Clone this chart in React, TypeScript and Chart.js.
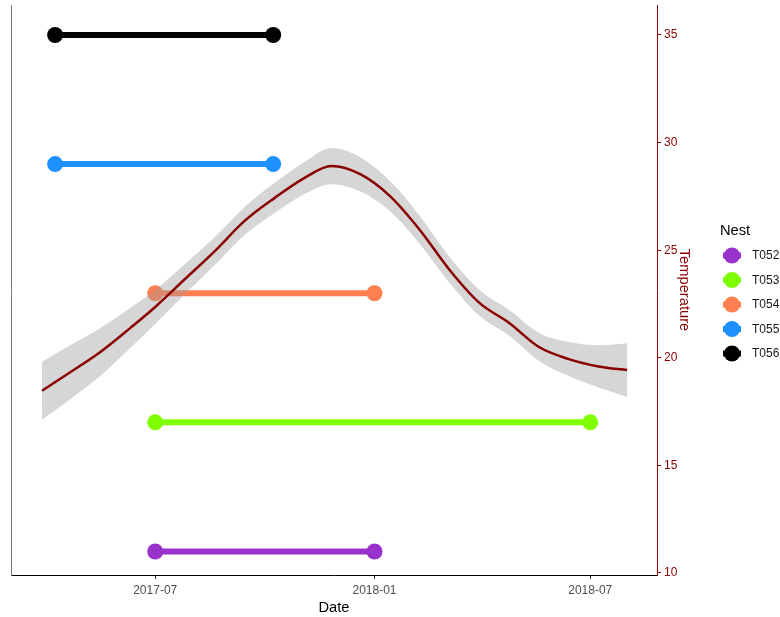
import React, { useEffect, useRef } from "react";
import { Chart, registerables } from "chart.js";

Chart.register(...registerables);

// ---- Data ----
const nests = ["T052", "T053", "T054", "T055", "T056"];
const nestColors = ["#9932CC", "#7FFF00", "#FF7F50", "#1E90FF", "#000000"];
const nestLevel = [11, 17, 23, 29, 35];
const nestStart = ["2017-07-01", "2017-07-01", "2017-07-01", "2017-04-08", "2017-04-08"];
const nestEnd = ["2018-01-01", "2018-07-01", "2018-01-01", "2017-10-08", "2017-10-08"];

const smoothDates = [
  "2017-03-28", "2017-04-21", "2017-05-16", "2017-06-10", "2017-07-01", "2017-07-26",
  "2017-08-20", "2017-09-14", "2017-10-09", "2017-11-03", "2017-11-26", "2017-12-20",
  "2018-01-14", "2018-02-08", "2018-03-05", "2018-03-30", "2018-04-24", "2018-05-19",
  "2018-06-13", "2018-07-08", "2018-08-01",
];
const smoothTemp = [
  18.47, 19.34, 20.27, 21.38, 22.36, 23.66, 24.96, 26.36, 27.42, 28.35, 28.91, 28.53,
  27.51, 25.94, 24.08, 22.55, 21.62, 20.5, 19.94, 19.6, 19.43,
];
const smoothUpper = [
  19.82, 20.59, 21.39, 22.31, 23.15, 24.36, 25.61, 27.01, 28.12, 29.09, 29.75, 29.32,
  28.21, 26.59, 24.68, 23.15, 22.22, 21.15, 20.73, 20.58, 20.68,
];
const smoothLower = [
  17.12, 18.09, 19.15, 20.45, 21.57, 22.96, 24.31, 25.71, 26.72, 27.61, 28.07, 27.74,
  26.81, 25.29, 23.48, 21.95, 21.02, 19.85, 19.15, 18.62, 18.18,
];

const xTickDates = ["2017-07-01", "2018-01-01", "2018-07-01"];
const xTickLabels = ["2017-07", "2018-01", "2018-07"];
const yTicks = [10, 15, 20, 25, 30, 35];
const xRange = ["2017-03-02", "2018-08-26"];
const yRange = [9.907, 36.394];

const day = (s: string) => {
  const [y, m, d] = s.split("-").map(Number);
  return Date.UTC(y, m - 1, d) / 86400000;
};

const FONT = "'Liberation Sans', Arial, sans-serif";
const DARKRED = "#8B0000";

const legendPlugin = {
  id: "nestLegend",
  afterDraw(chart: any) {
    const ctx = chart.ctx;
    ctx.save();
    ctx.fillStyle = "#000";
    ctx.font = `14.7px ${FONT}`;
    ctx.textAlign = "left";
    ctx.textBaseline = "middle";
    ctx.fillText("Nest", 720, 231);
    nests.forEach((n, i) => {
      const cy = 255.5 + i * 24.5;
      ctx.strokeStyle = nestColors[i];
      ctx.lineWidth = 6;
      ctx.beginPath();
      ctx.moveTo(723, cy);
      ctx.lineTo(741, cy);
      ctx.stroke();
      ctx.fillStyle = nestColors[i];
      ctx.beginPath();
      ctx.arc(732, cy, 8, 0, Math.PI * 2);
      ctx.fill();
      ctx.fillStyle = "#1a1a1a";
      ctx.font = `12px ${FONT}`;
      ctx.fillText(n, 752, cy + 0.5);
    });
    ctx.restore();
  },
};

export default function App() {
  const ref = useRef<HTMLCanvasElement>(null);
  useEffect(() => {
    if (!ref.current) return;
    const segDatasets = nests.map((n, i) => ({
      label: n,
      data: [
        { x: day(nestStart[i]), y: nestLevel[i] },
        { x: day(nestEnd[i]), y: nestLevel[i] },
      ],
      borderColor: nestColors[i],
      backgroundColor: nestColors[i],
      borderWidth: 6,
      borderCapStyle: "butt",
      pointRadius: 8,
      pointBorderWidth: 0,
      pointBackgroundColor: nestColors[i],
      yAxisID: "y",
      order: 3,
    }));
    const smoothLine = {
      pointRadius: 0,
      cubicInterpolationMode: "monotone",
      yAxisID: "y",
    };
    const chart = new Chart(ref.current, {
      type: "line",
      data: {
        datasets: [
          ...segDatasets,
          {
            ...smoothLine,
            label: "upper",
            data: smoothDates.map((d, i) => ({ x: day(d), y: smoothUpper[i] })),
            borderColor: "transparent",
            borderWidth: 0,
            backgroundColor: "rgba(153,153,153,0.4)",
            fill: "+1",
            order: 2,
          },
          {
            ...smoothLine,
            label: "lower",
            data: smoothDates.map((d, i) => ({ x: day(d), y: smoothLower[i] })),
            borderColor: "transparent",
            borderWidth: 0,
            fill: false,
            order: 2,
          },
          {
            ...smoothLine,
            label: "smooth",
            data: smoothDates.map((d, i) => ({ x: day(d), y: smoothTemp[i] })),
            borderColor: DARKRED,
            borderWidth: 2.5,
            fill: false,
            order: 1,
          },
        ] as any,
      },
      options: {
        responsive: false,
        animation: false,
        layout: { autoPadding: false, padding: { left: 11, top: 5, right: 83, bottom: 0 } },
        plugins: { legend: { display: false }, tooltip: { enabled: false } },
        scales: {
          x: {
            type: "linear",
            min: day(xRange[0]),
            max: day(xRange[1]),
            afterBuildTicks: (s: any) => {
              s.ticks = xTickDates.map((d) => ({ value: day(d) }));
            },
            afterFit: (s: any) => {
              s.height = 42;
              s.paddingLeft = 0;
              s.paddingRight = 0;
            },
            ticks: {
              callback: (v: any) => {
                const idx = xTickDates.findIndex((d) => day(d) === v);
                return idx >= 0 ? xTickLabels[idx] : "";
              },
              color: "#4D4D4D",
              font: { family: FONT, size: 12 },
              padding: 4,
              maxRotation: 0,
              autoSkip: false,
            },
            grid: { display: true, drawOnChartArea: false, drawTicks: true, tickLength: 4, color: "#333333" },
            border: { display: true, color: "#000000", width: 1 },
            title: {
              display: true,
              text: "Date",
              color: "#000000",
              font: { family: FONT, size: 14.7 },
              padding: { top: 0, bottom: 0 },
            },
          },
          y: {
            type: "linear",
            position: "right",
            min: yRange[0],
            max: yRange[1],
            afterBuildTicks: (s: any) => {
              s.ticks = yTicks.map((v) => ({ value: v }));
            },
            afterFit: (s: any) => {
              s.width = 40;
              s.paddingTop = 0;
              s.paddingBottom = 0;
            },
            ticks: {
              color: DARKRED,
              font: { family: FONT, size: 12 },
              padding: 3,
            },
            grid: { display: true, drawOnChartArea: false, drawTicks: true, tickLength: 4, color: DARKRED },
            border: { display: true, color: DARKRED, width: 1 },
            title: {
              display: true,
              text: "Temperature",
              color: DARKRED,
              font: { family: FONT, size: 14.7 },
              padding: { top: 4, bottom: 0 },
            },
          },
          yL: {
            type: "linear",
            position: "left",
            min: yRange[0],
            max: yRange[1],
            ticks: { display: false },
            grid: { display: false, drawTicks: false },
            border: { display: true, color: "#777777", width: 1 },
            afterFit: (s: any) => {
              s.width = 0;
              s.paddingTop = 0;
              s.paddingBottom = 0;
            },
          },
        },
      } as any,
      plugins: [legendPlugin],
    });
    return () => chart.destroy();
  }, []);
  return (
    <div style={{ position: "absolute", left: 0, top: 0, width: 780, height: 617, background: "#fff" }}>
      <canvas ref={ref} width={780} height={617} style={{ display: "block" }} />
    </div>
  );
}
